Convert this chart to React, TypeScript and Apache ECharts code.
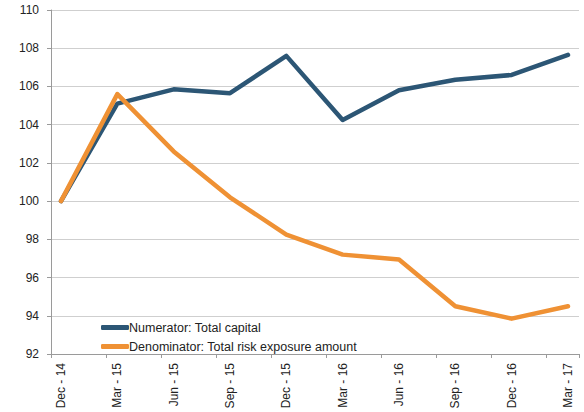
import React, { useEffect, useRef } from "react";
import * as echarts from "echarts";

const categories = ["Dec - 14", "Mar - 15", "Jun - 15", "Sep - 15", "Dec - 15", "Mar - 16", "Jun - 16", "Sep - 16", "Dec - 16", "Mar - 17"];
const numerator = [100, 105.1, 105.85, 105.65, 107.6, 104.25, 105.8, 106.35, 106.6, 107.65];
const denominator = [100, 105.6, 102.6, 100.2, 98.25, 97.2, 96.95, 94.5, 93.85, 94.5];
const seriesNames = ["Numerator: Total capital", "Denominator: Total risk exposure amount"];
const colors = ["#2c5675", "#ef9134"];

export default function App() {
  const ref = useRef<HTMLDivElement>(null);
  useEffect(() => {
    const chart = echarts.init(ref.current!, null, { renderer: "svg" });
    const font = "Liberation Sans, Arial, sans-serif";
    chart.setOption({
      animation: false,
      backgroundColor: "#ffffff",
      grid: [
        { left: 51, right: 5, top: 10, bottom: 58 },
        { left: 61, right: 16, top: 10, bottom: 58 },
      ],
      xAxis: [
        {
          type: "value",
          gridIndex: 0,
          min: 0,
          max: 9.6,
          interval: 1,
          axisLine: { show: true, lineStyle: { color: "#9a9a9a" } },
          axisTick: { show: true, length: 4, lineStyle: { color: "#9a9a9a" } },
          axisLabel: { show: false },
          splitLine: { show: false },
        },
        {
          type: "category",
          gridIndex: 1,
          data: categories,
          boundaryGap: false,
          axisLine: { show: false },
          axisTick: { show: false },
          axisLabel: {
            rotate: 90,
            margin: 9,
            fontSize: 12,
            color: "#222",
            fontFamily: font,
            interval: 0,
          },
        },
      ],
      yAxis: [
        {
          type: "value",
          gridIndex: 0,
          min: 92,
          max: 110,
          interval: 2,
          axisLine: { show: true, lineStyle: { color: "#9a9a9a" } },
          axisTick: { show: true, length: 4, lineStyle: { color: "#9a9a9a" } },
          axisLabel: { fontSize: 12, color: "#222", fontFamily: font, margin: 12 },
          splitLine: { show: true, lineStyle: { color: "#cfcfcf" } },
        },
        {
          type: "value",
          gridIndex: 1,
          min: 92,
          max: 110,
          interval: 2,
          show: false,
          splitLine: { show: false },
        },
      ],
      legend: {
        orient: "vertical",
        left: 96,
        top: 316,
        itemGap: 6,
        itemWidth: 28,
        itemHeight: 5,
        icon: "roundRect",
        textStyle: { fontSize: 12.5, color: "#222", fontFamily: font, padding: [0, 0, 0, -5] },
        data: seriesNames,
      },
      series: [
        {
          name: seriesNames[0],
          type: "line",
          xAxisIndex: 1,
          yAxisIndex: 1,
          data: numerator,
          symbol: "none",
          lineStyle: { width: 4.5, color: colors[0], cap: "round", join: "round" },
          itemStyle: { color: colors[0] },
          z: 3,
        },
        {
          name: seriesNames[1],
          type: "line",
          xAxisIndex: 1,
          yAxisIndex: 1,
          data: denominator,
          symbol: "none",
          lineStyle: { width: 4.5, color: colors[1], cap: "round", join: "round" },
          itemStyle: { color: colors[1] },
          z: 4,
        },
      ],
    });
    return () => chart.dispose();
  }, []);
  return <div ref={ref} style={{ width: 584, height: 412, position: "fixed", left: 0, top: 0 }} />;
}
